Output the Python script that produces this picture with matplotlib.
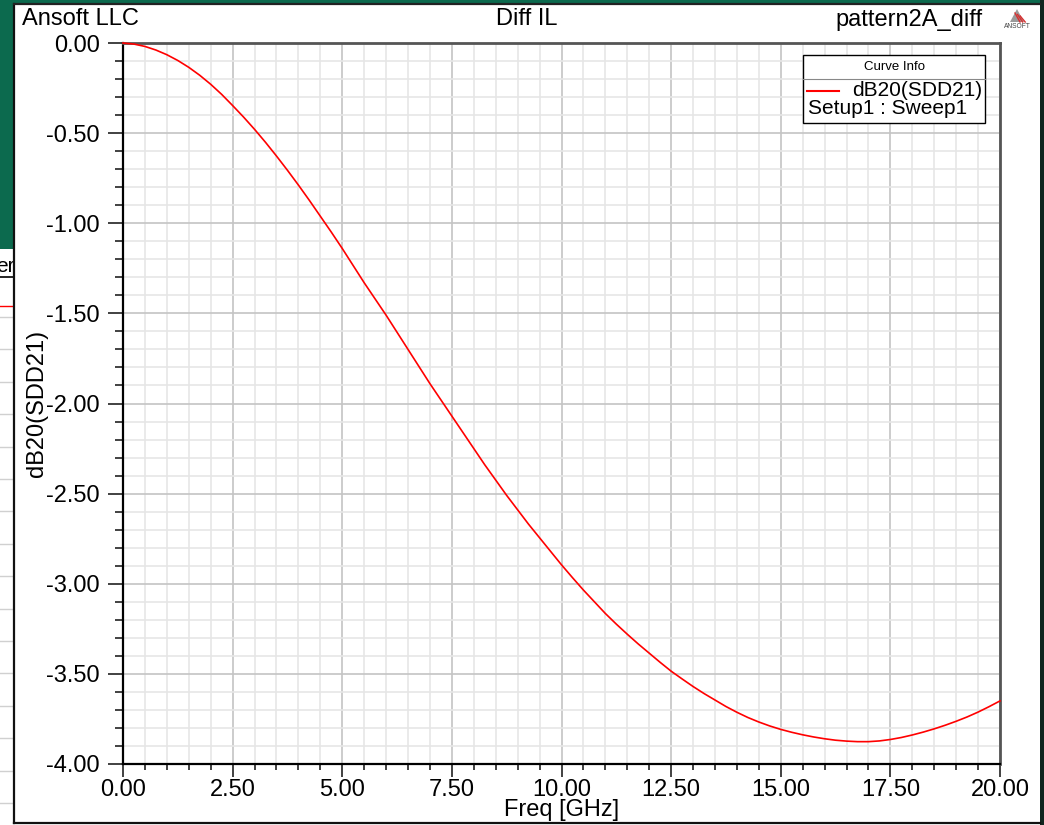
import matplotlib
matplotlib.use("Agg")
import matplotlib.pyplot as plt
from matplotlib.ticker import MultipleLocator, FormatStrFormatter
from matplotlib.patches import Rectangle, Polygon
from matplotlib.lines import Line2D

plt.rcParams['font.family'] = ['Liberation Sans', 'DejaVu Sans']
plt.rcParams['axes.unicode_minus'] = False

# ---- data ----
freq_ghz = [0.0, 0.25, 0.5, 0.75, 1.0, 1.25, 1.5, 1.75, 2.0, 2.25, 2.5, 2.75,
            3.0, 3.25, 3.5, 3.75, 4.0, 4.25, 4.5, 4.75, 5.0, 5.25, 5.5, 5.75,
            6.0, 6.25, 6.5, 6.75, 7.0, 7.25, 7.5, 7.75, 8.0, 8.25, 8.5, 8.75,
            9.0, 9.25, 9.5, 9.75, 10.0, 10.25, 10.5, 10.75, 11.0, 11.25, 11.5,
            11.75, 12.0, 12.25, 12.5, 12.75, 13.0, 13.25, 13.5, 13.75, 14.0,
            14.25, 14.5, 14.75, 15.0, 15.25, 15.5, 15.75, 16.0, 16.25, 16.5,
            16.75, 17.0, 17.25, 17.5, 17.75, 18.0, 18.25, 18.5, 18.75, 19.0,
            19.25, 19.5, 19.75, 20.0]
sdd21_db = [0.0, -0.006, -0.019, -0.039, -0.065, -0.097, -0.135, -0.179, -0.229,
            -0.285, -0.347, -0.411, -0.479, -0.551, -0.627, -0.706, -0.788,
            -0.873, -0.961, -1.049, -1.14, -1.235, -1.33, -1.42, -1.51, -1.605,
            -1.70, -1.795, -1.89, -1.98, -2.07, -2.16, -2.25, -2.34, -2.425,
            -2.51, -2.59, -2.67, -2.745, -2.82, -2.895, -2.966, -3.035, -3.10,
            -3.165, -3.224, -3.28, -3.334, -3.385, -3.436, -3.485, -3.528,
            -3.57, -3.609, -3.645, -3.681, -3.713, -3.742, -3.767, -3.789,
            -3.808, -3.824, -3.838, -3.850, -3.860, -3.868, -3.873, -3.876,
            -3.876, -3.872, -3.864, -3.853, -3.839, -3.823, -3.805, -3.785,
            -3.763, -3.739, -3.712, -3.682, -3.65]

title_left = "Ansoft LLC"
title_center = "Diff IL"
title_right = "pattern2A_diff"
x_label = "Freq [GHz]"
y_label = "dB20(SDD21)"
legend_header = "Curve Info"
legend_curve = "dB20(SDD21)"
legend_setup = "Setup1 : Sweep1"

W, H = 1044, 825
fig = plt.figure(figsize=(W / 100, H / 100), dpi=100)
fig.patch.set_facecolor('white')

def fx(px):
    return px / W

def fy(py):
    return 1 - py / H

def frect(x0, y0, x1, y1, **kw):
    r = Rectangle((fx(x0), fy(y1)), fx(x1) - fx(x0), fy(y0) - fy(y1),
                  transform=fig.transFigure, **kw)
    fig.add_artist(r)
    return r

def fline(xs, ys, **kw):
    l = Line2D([fx(v) for v in xs], [fy(v) for v in ys], transform=fig.transFigure, **kw)
    fig.add_artist(l)
    return l

# ---- window background pieces (screenshot frame) ----
green = '#0c6a4e'
frect(0, 0, W, 4, facecolor=green, edgecolor='none', zorder=0)
frect(0, 0, 14, 249, facecolor=green, edgecolor='none', zorder=0)
frect(1040, 0, W, H, facecolor='#10261f', edgecolor='none', zorder=0)
# partial window on the left
for k in range(16):
    yy = 317 + 32.4 * k
    if yy < 822:
        fline([0, 13], [yy, yy], color='#d0d0d0', lw=1, zorder=1)
fline([0, 13], [277, 277], color='black', lw=1.2, zorder=1)
fline([0, 13], [306, 306], color='red', lw=1, zorder=1)
fig.text(fx(-4), fy(267), "er", fontsize=15, ha='left', va='center', zorder=1)
# white panel border
fline([13.5, 13.5], [4, 823], color='#111111', lw=1.6, zorder=2)
fline([13.5, 1040], [4, 4], color='#222222', lw=1.6, zorder=2)
fline([13.5, 1040], [823, 823], color='#111111', lw=1.6, zorder=2)

# ---- axes ----
ax_l, ax_r, ax_t, ax_b = 123, 1000, 43, 764
ax = fig.add_axes([fx(ax_l), fy(ax_b), fx(ax_r) - fx(ax_l), fy(ax_t) - fy(ax_b)])
ax.set_facecolor('white')
ax.plot(freq_ghz, sdd21_db, color='#ff0000', lw=1.2, zorder=3, clip_on=False)

ax.set_xlim(0, 20)
ax.set_ylim(-4, 0)
ax.xaxis.set_major_locator(MultipleLocator(2.5))
ax.xaxis.set_minor_locator(MultipleLocator(0.5))
ax.yaxis.set_major_locator(MultipleLocator(0.5))
ax.yaxis.set_minor_locator(MultipleLocator(0.1))
ax.xaxis.set_major_formatter(FormatStrFormatter('%.2f'))
ax.yaxis.set_major_formatter(FormatStrFormatter('%.2f'))

ax.grid(which='minor', color='#e6e6e6', lw=1.2, zorder=0)
ax.grid(which='major', color='#c4c4c4', lw=1.2, zorder=0)
ax.set_axisbelow(True)

ax.tick_params(axis='y', which='major', direction='out', length=10.8, width=1.3,
               pad=6.0, labelsize=17, color='#333333')
ax.tick_params(axis='y', which='minor', direction='out', length=5.8, width=1.3,
               color='#333333')
ax.tick_params(axis='x', which='major', direction='out', length=9.0, width=1.3,
               pad=1.5, labelsize=17, color='#333333')
ax.tick_params(axis='x', which='minor', direction='out', length=4.5, width=1.3,
               color='#333333')

for side in ['left', 'bottom']:
    ax.spines[side].set_color('black')
    ax.spines[side].set_linewidth(1.6)
for side in ['top', 'right']:
    ax.spines[side].set_color('#555555')
    ax.spines[side].set_linewidth(2.0)

ax.set_xlabel(x_label, fontsize=17)
ax.set_ylabel(y_label, fontsize=17)
ax.yaxis.set_label_coords(fx(37), fy((ax_t + ax_b) / 2), transform=fig.transFigure)
ax.xaxis.set_label_coords(fx((ax_l + ax_r) / 2), fy(810), transform=fig.transFigure)
ax.xaxis.label.set_va('center')
ax.yaxis.label.set_va('center')

# ---- header texts ----
fig.text(fx(22), fy(19), title_left, fontsize=17, ha='left', va='center')
fig.text(fx(527), fy(19), title_center, fontsize=17, ha='center', va='center')
fig.text(fx(983), fy(20), title_right, fontsize=17, ha='right', va='center')

# ANSOFT logo
tri = Polygon([(fx(1010), fy(22)), (fx(1017), fy(9)), (fx(1024), fy(22))],
              closed=True, facecolor='#9a9a9a', edgecolor='none',
              transform=fig.transFigure)
fig.add_artist(tri)
for i in range(3):
    fline([1015 + i * 2.6, 1020 + i * 2.6], [13 + i * 1.5, 22], color='#d83030', lw=1.0)
fig.text(fx(1017), fy(26.5), "ANSOFT", fontsize=4.8, ha='center', va='center',
         color='#444444')

# ---- legend box ----
frect(803, 55, 985, 123, facecolor='white', edgecolor='black', lw=1.0, zorder=5)
fline([803, 985], [78.5, 78.5], color='#888888', lw=0.8, zorder=6)
fig.text(fx(894), fy(67), legend_header, fontsize=9.5, ha='center', va='center', zorder=6)
fline([807, 839], [91, 91], color='#ff0000', lw=1.5, zorder=6)
fig.text(fx(982), fy(91), legend_curve, fontsize=15, ha='right', va='center', zorder=6)
fig.text(fx(808), fy(109), legend_setup, fontsize=15, ha='left', va='center', zorder=6)

fig.savefig('out.png', dpi=100)
